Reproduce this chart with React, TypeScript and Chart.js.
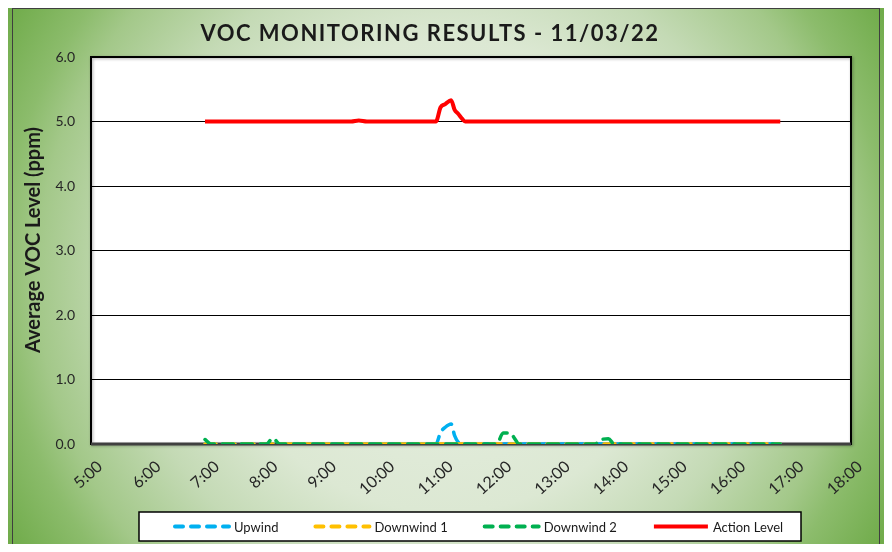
import React, { useEffect, useRef } from "react";
import { Chart, registerables } from "chart.js";

Chart.register(...registerables);

const TITLE = "VOC MONITORING RESULTS - 11/03/22";
const Y_TITLE = "Average VOC Level (ppm)";
const SERIES_NAMES = ["Upwind", "Downwind 1", "Downwind 2", "Action Level"];
const SERIES_COLORS = ["#00b0f0", "#ffc000", "#00b050", "#ff0000"];

// time of day, in hours
const TIMES = [6.95, 7.05, 8.0, 8.11, 8.23, 9.45, 9.58, 9.72, 10.9, 10.98, 11.06, 11.16, 11.22, 11.28, 11.35, 11.4, 11.94, 12.05, 12.17, 12.25, 12.32, 13.62, 13.73, 13.85, 13.95, 16.79];
const UPWIND = [0, 0, 0, 0, 0, 0, 0, 0, 0, 0.18, 0.26, 0.31, 0.13, 0.03, 0, 0, 0, 0, 0, 0, 0, 0, 0, 0, 0, 0];
const DOWNWIND_1 = [0, 0, 0, 0, 0, 0, 0, 0, 0, 0, 0, 0, 0, 0, 0, 0, 0, 0, 0, 0, 0, 0, 0, 0, 0, 0];
const DOWNWIND_2 = [0.07, 0, 0, 0.09, 0, 0, 0, 0, 0, 0, 0, 0, 0, 0, 0, 0, 0, 0.17, 0.17, 0.08, 0, 0, 0.07, 0.08, 0, 0];
const ACTION_LEVEL = [5, 5, 5, 5, 5, 5, 5.015, 5, 5, 5.22, 5.27, 5.33, 5.18, 5.12, 5.04, 5, 5, 5, 5, 5, 5, 5, 5, 5, 5, 5];

const X_MIN = 5;
const X_MAX = 18;
const Y_MIN = 0;
const Y_MAX = 6;

const FONT = "Lato, 'Open Sans', sans-serif";

const toPoints = (vals: number[]) => vals.map((v, i) => ({ x: TIMES[i], y: v }));

const decorPlugin = {
  id: "decor",
  beforeDraw(chart: any) {
    const { ctx, chartArea } = chart;
    ctx.save();
    ctx.strokeStyle = "#3f3f3f";
    ctx.lineWidth = 1;
    ctx.strokeRect(12.5, 8.5, 867, 600);
    ctx.fillStyle = "#ffffff";
    ctx.fillRect(chartArea.left, chartArea.top, chartArea.right - chartArea.left, chartArea.bottom - chartArea.top);
    ctx.restore();
  },
  beforeDatasetsDraw(chart: any) {
    const { ctx, chartArea } = chart;
    ctx.save();
    ctx.shadowColor = "rgba(0,0,0,0.35)";
    ctx.shadowBlur = 3;
    ctx.shadowOffsetX = 1;
    ctx.shadowOffsetY = 1;
    ctx.strokeStyle = "#000000";
    ctx.lineWidth = 2;
    ctx.strokeRect(chartArea.left, chartArea.top, chartArea.right - chartArea.left, chartArea.bottom - chartArea.top);
    ctx.shadowColor = "transparent";
    ctx.strokeStyle = "#404040";
    ctx.lineWidth = 3;
    ctx.beginPath();
    ctx.moveTo(chartArea.left, chartArea.bottom);
    ctx.lineTo(chartArea.right, chartArea.bottom);
    ctx.stroke();
    ctx.restore();
  },
  afterDraw(chart: any) {
    const { ctx, chartArea } = chart;
    ctx.save();
    // title
    ctx.fillStyle = "#1a1a1a";
    ctx.font = `bold 22px ${FONT}`;
    (ctx as any).letterSpacing = "1.5px";
    ctx.textAlign = "center";
    ctx.textBaseline = "middle";
    ctx.fillText(TITLE, 430, 34);
    (ctx as any).letterSpacing = "0px";
    // y axis title
    ctx.save();
    ctx.translate(34, 240);
    ctx.rotate(-Math.PI / 2);
    ctx.font = `bold 20px ${FONT}`;
    ctx.fillText(Y_TITLE, 0, 0);
    ctx.restore();
    // legend
    const boxL = chartArea.left + 48;
    const boxR = chartArea.right - 50;
    const boxT = 512;
    const boxH = 29;
    ctx.fillStyle = "#ffffff";
    ctx.fillRect(boxL, boxT, boxR - boxL, boxH);
    ctx.strokeStyle = "#000000";
    ctx.lineWidth = 1.5;
    ctx.strokeRect(boxL, boxT, boxR - boxL, boxH);
    const cy = boxT + boxH / 2;
    let x = boxL + 34;
    ctx.font = `13px ${FONT}`;
    ctx.textAlign = "left";
    chart.data.datasets.forEach((ds: any) => {
      ctx.save();
      ctx.strokeStyle = ds.borderColor;
      ctx.lineWidth = 4;
      ctx.lineCap = ds.borderDash && ds.borderDash.length ? "round" : "butt";
      ctx.setLineDash(ds.borderDash && ds.borderDash.length ? [8, 8] : []);
      ctx.beginPath();
      ctx.moveTo(x + 2, cy);
      ctx.lineTo(x + 56, cy);
      ctx.stroke();
      ctx.restore();
      ctx.fillStyle = "#1a1a1a";
      ctx.fillText(ds.label, x + 61, cy + 1);
      x += 61 + ctx.measureText(ds.label).width + 35;
    });
    ctx.restore();
  },
};

export default function App() {
  const ref = useRef<HTMLCanvasElement | null>(null);
  useEffect(() => {
    if (!ref.current) return;
    const mk = (i: number, vals: number[], dashed: boolean, order: number) => ({
      label: SERIES_NAMES[i],
      data: toPoints(vals),
      borderColor: SERIES_COLORS[i],
      backgroundColor: SERIES_COLORS[i],
      borderWidth: dashed ? 3.5 : 4,
      borderDash: dashed ? [11, 8] : [],
      borderCapStyle: dashed ? "round" : "butt",
      borderJoinStyle: "round",
      pointRadius: 0,
      cubicInterpolationMode: "monotone",
      fill: false,
      order,
    });
    const chart = new Chart(ref.current, {
      type: "line",
      data: {
        datasets: [
          mk(0, UPWIND, true, 4),
          mk(1, DOWNWIND_1, true, 3),
          mk(2, DOWNWIND_2, true, 2),
          mk(3, ACTION_LEVEL, false, 1),
        ] as any,
      },
      options: {
        responsive: false,
        animation: false,
        events: [],
        layout: { padding: { top: 57, right: 41, left: 0, bottom: 0 } },
        plugins: { legend: { display: false }, title: { display: false }, tooltip: { enabled: false } },
        scales: {
          x: {
            type: "linear",
            min: X_MIN,
            max: X_MAX,
            afterFit: (s: any) => { s.height = 108; },
            afterBuildTicks: (s: any) => {
              const t = [];
              for (let h = X_MIN; h <= X_MAX; h++) t.push({ value: h });
              s.ticks = t;
            },
            grid: { display: false, drawTicks: false },
            border: { display: false },
            ticks: {
              autoSkip: false,
              minRotation: 42,
              maxRotation: 42,
              padding: 13,
              labelOffset: 9,
              color: "#262626",
              font: { family: FONT, size: 16 },
              callback: (v: any) => `${v}:00`,
            },
          },
          y: {
            min: Y_MIN,
            max: Y_MAX,
            afterFit: (s: any) => { s.width = 91; },
            grid: { color: "#000000", lineWidth: 1, drawTicks: false },
            border: { display: false },
            ticks: {
              stepSize: 1,
              padding: 16,
              color: "#262626",
              font: { family: FONT, size: 14 },
              callback: (v: any) => Number(v).toFixed(1),
            },
          },
        },
      },
      plugins: [decorPlugin],
    } as any);
    return () => chart.destroy();
  }, []);
  return (
    <div
      style={{
        margin: -8,
        width: 892,
        height: 552,
        overflow: "hidden",
        background:
          "radial-gradient(circle farthest-corner at 50% 50%, #eaf1e6 0%, #dce8d3 45%, #c4dab5 62%, #a3c889 78%, #8cbc6c 85%, #6aa843 100%)",
      }}
    >
      <canvas ref={ref} width={892} height={552} style={{ display: "block" }} />
    </div>
  );
}
